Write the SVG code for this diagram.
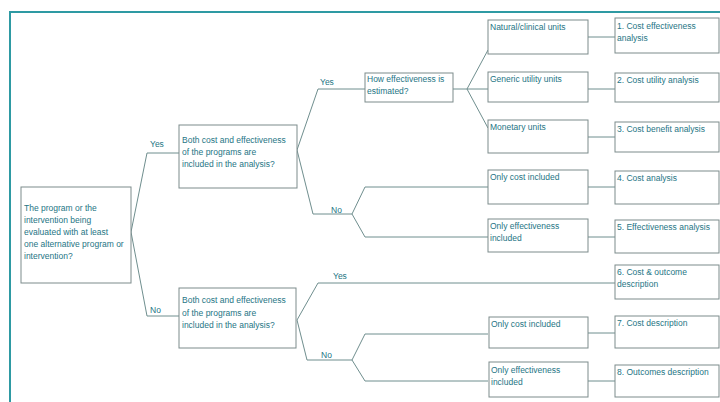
<svg xmlns="http://www.w3.org/2000/svg" width="720" height="402" viewBox="0 0 720 402">
<style>
.box{fill:#ffffff;stroke:#7d8b8b;stroke-width:1}
.t{font-family:"Liberation Sans",Arial,sans-serif;font-size:8.5px;fill:#257585}
.lbl{font-family:"Liberation Sans",Arial,sans-serif;font-size:8.5px;fill:#257585}
.c{fill:none;stroke:#6f8e8e;stroke-width:1}
</style>
<rect x="0" y="0" width="720" height="402" fill="#ffffff"/>
<path d="M10 402 V12 H720" fill="none" stroke="#2e9aa3" stroke-width="2"/>
<g id="connectors">
<polyline class="c" points="131,232 147,153 179,153"/>
<polyline class="c" points="131,232 147,316 179,316"/>
<polyline class="c" points="297,150 318,89 365,89"/>
<polyline class="c" points="297,150 313,214 352,214"/>
<polyline class="c" points="352,214 365,187 488,187"/>
<polyline class="c" points="352,214 365,237 488,237"/>
<polyline class="c" points="453,89 467,89"/>
<polyline class="c" points="467,89 488,50"/>
<polyline class="c" points="467,89 488,89"/>
<polyline class="c" points="467,89 488,128"/>
<polyline class="c" points="297,320 318,283 615,283"/>
<polyline class="c" points="297,320 307,360 352,360"/>
<polyline class="c" points="352,360 365,334 488,334"/>
<polyline class="c" points="352,360 365,381 488,381"/>
<line class="c" x1="588" y1="37" x2="615" y2="37"/>
<line class="c" x1="588" y1="89" x2="615" y2="89"/>
<line class="c" x1="588" y1="137" x2="615" y2="137"/>
<line class="c" x1="588" y1="187" x2="615" y2="187"/>
<line class="c" x1="588" y1="237" x2="615" y2="237"/>
<line class="c" x1="588" y1="333" x2="615" y2="333"/>
<line class="c" x1="588" y1="381" x2="615" y2="381"/>
<text class="lbl" x="150" y="147">Yes</text>
<text class="lbl" x="150" y="313">No</text>
<text class="lbl" x="320" y="85">Yes</text>
<text class="lbl" x="331" y="213">No</text>
<text class="lbl" x="333" y="279">Yes</text>
<text class="lbl" x="321" y="358">No</text>
</g>
<g id="root">
<rect class="box" x="21" y="187" width="110" height="96"/>
<text class="t" x="24" y="211">The program or the</text>
<text class="t" x="24" y="223">intervention being</text>
<text class="t" x="24" y="235">evaluated with at least</text>
<text class="t" x="24" y="247">one alternative program or</text>
<text class="t" x="24" y="259">intervention?</text>
</g>
<g id="decision-yes">
<rect class="box" x="179" y="125" width="118" height="63"/>
<text class="t" x="182" y="143">Both cost and effectiveness</text>
<text class="t" x="182" y="155">of the programs are</text>
<text class="t" x="182" y="167">included in the analysis?</text>
</g>
<g id="decision-no">
<rect class="box" x="179" y="288" width="117" height="60"/>
<text class="t" x="182" y="303">Both cost and effectiveness</text>
<text class="t" x="182" y="316">of the programs are</text>
<text class="t" x="182" y="328">included in the analysis?</text>
</g>
<g id="how-estimated">
<rect class="box" x="365" y="73" width="88" height="29"/>
<text class="t" x="367" y="82">How effectiveness is</text>
<text class="t" x="367" y="94">estimated?</text>
</g>
<g id="natural">
<rect class="box" x="488" y="20" width="100" height="34"/>
<text class="t" x="490" y="30">Natural/clinical units</text>
</g>
<g id="generic">
<rect class="box" x="488" y="72" width="100" height="30"/>
<text class="t" x="490" y="82">Generic utility units</text>
</g>
<g id="monetary">
<rect class="box" x="488" y="120" width="100" height="33"/>
<text class="t" x="490" y="130">Monetary units</text>
</g>
<g id="only-cost-1">
<rect class="box" x="488" y="170" width="100" height="34"/>
<text class="t" x="490" y="180">Only cost included</text>
</g>
<g id="only-eff-1">
<rect class="box" x="488" y="219" width="100" height="33"/>
<text class="t" x="490" y="229">Only effectiveness</text>
<text class="t" x="490" y="241">included</text>
</g>
<g id="only-cost-2">
<rect class="box" x="489" y="317" width="99" height="31"/>
<text class="t" x="491" y="327">Only cost included</text>
</g>
<g id="only-eff-2">
<rect class="box" x="489" y="362" width="99" height="35"/>
<text class="t" x="491" y="373">Only effectiveness</text>
<text class="t" x="491" y="385">included</text>
</g>
<g id="r1">
<rect class="box" x="615" y="18" width="104" height="35"/>
<text class="t" x="617" y="29">1. Cost effectiveness</text>
<text class="t" x="617" y="41">analysis</text>
</g>
<g id="r2">
<rect class="box" x="615" y="73" width="104" height="29"/>
<text class="t" x="617" y="83">2. Cost utility analysis</text>
</g>
<g id="r3">
<rect class="box" x="615" y="122" width="104" height="30"/>
<text class="t" x="617" y="132">3. Cost benefit analysis</text>
</g>
<g id="r4">
<rect class="box" x="615" y="171" width="104" height="33"/>
<text class="t" x="617" y="181">4. Cost analysis</text>
</g>
<g id="r5">
<rect class="box" x="615" y="220" width="104" height="33"/>
<text class="t" x="617" y="230">5. Effectiveness analysis</text>
</g>
<g id="r6">
<rect class="box" x="615" y="265" width="104" height="34"/>
<text class="t" x="617" y="275">6. Cost &amp; outcome</text>
<text class="t" x="617" y="287">description</text>
</g>
<g id="r7">
<rect class="box" x="615" y="316" width="104" height="32"/>
<text class="t" x="617" y="326">7. Cost description</text>
</g>
<g id="r8">
<rect class="box" x="615" y="365" width="104" height="32"/>
<text class="t" x="617" y="375">8. Outcomes description</text>
</g>
</svg>
